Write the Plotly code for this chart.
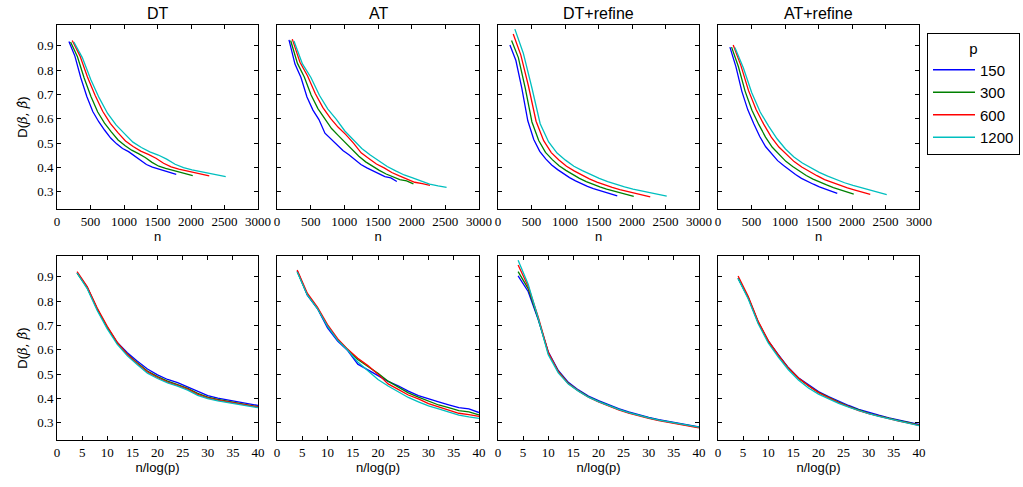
import numpy as np
import plotly.graph_objects as go

# ---------------- data ----------------
P_VALUES = [150, 300, 600, 1200]
P_LABELS = ["150", "300", "600", "1200"]
COLORS = ["#0000ff", "#008000", "#ff0000", "#00bfbf"]
METHODS = ["DT", "AT", "DT+refine", "AT+refine"]

# n / log(p) grid (bottom row x values)
N_OVER_LOGP = [4, 6, 8, 10, 12, 14, 16, 18, 20, 22, 24, 26, 28, 30, 32, 34, 36, 38, 40]
# n = N_OVER_LOGP * SAMPLE_FACTOR * log(p)   (top row x values)
SAMPLE_FACTOR = 8.88

DT_150 = [0.918, 0.858, 0.768, 0.692, 0.630, 0.588, 0.553, 0.521, 0.497, 0.478, 0.465, 0.448, 0.428, 0.412, 0.401, 0.394, 0.387, 0.380, 0.371]
DT_300 = [0.916, 0.856, 0.768, 0.692, 0.628, 0.582, 0.546, 0.513, 0.490, 0.471, 0.457, 0.441, 0.421, 0.405, 0.396, 0.389, 0.381, 0.374, 0.366]
DT_600 = [0.922, 0.860, 0.772, 0.697, 0.631, 0.581, 0.543, 0.509, 0.486, 0.467, 0.454, 0.438, 0.417, 0.402, 0.393, 0.386, 0.378, 0.371, 0.365]
DT_1200 = [0.916, 0.852, 0.762, 0.686, 0.622, 0.575, 0.539, 0.504, 0.482, 0.464, 0.451, 0.434, 0.413, 0.399, 0.390, 0.383, 0.375, 0.368, 0.362]

AT_150 = [0.925, 0.825, 0.770, 0.690, 0.636, 0.597, 0.541, 0.518, 0.494, 0.470, 0.452, 0.430, 0.412, 0.398, 0.386, 0.374, 0.362, 0.357, 0.342]
AT_300 = [0.922, 0.828, 0.772, 0.698, 0.642, 0.600, 0.560, 0.531, 0.503, 0.471, 0.446, 0.423, 0.405, 0.388, 0.373, 0.362, 0.350, 0.345, 0.332]
AT_600 = [0.928, 0.833, 0.776, 0.704, 0.646, 0.602, 0.565, 0.535, 0.500, 0.460, 0.437, 0.414, 0.398, 0.379, 0.365, 0.352, 0.339, 0.333, 0.326]
AT_1200 = [0.920, 0.826, 0.770, 0.697, 0.640, 0.598, 0.550, 0.515, 0.478, 0.451, 0.426, 0.404, 0.386, 0.369, 0.357, 0.345, 0.331, 0.324, 0.318]

DTR_150 = [0.904, 0.840, 0.725, 0.592, 0.515, 0.466, 0.435, 0.410, 0.391, 0.373, 0.358, 0.345, 0.333, 0.322, 0.313, 0.305, 0.297, 0.290, 0.283]
DTR_300 = [0.922, 0.852, 0.728, 0.587, 0.511, 0.462, 0.432, 0.407, 0.388, 0.370, 0.355, 0.342, 0.330, 0.320, 0.311, 0.303, 0.295, 0.288, 0.281]
DTR_600 = [0.949, 0.862, 0.735, 0.590, 0.510, 0.461, 0.431, 0.405, 0.386, 0.368, 0.353, 0.340, 0.328, 0.318, 0.309, 0.301, 0.294, 0.287, 0.279]
DTR_1200 = [0.969, 0.870, 0.730, 0.580, 0.505, 0.459, 0.430, 0.405, 0.387, 0.370, 0.355, 0.342, 0.330, 0.320, 0.311, 0.303, 0.296, 0.289, 0.282]

ATR_150 = [0.895, 0.815, 0.713, 0.637, 0.580, 0.527, 0.485, 0.455, 0.428, 0.408, 0.389, 0.371, 0.355, 0.342, 0.331, 0.320, 0.311, 0.302, 0.293]
ATR_300 = [0.895, 0.815, 0.713, 0.635, 0.577, 0.525, 0.483, 0.452, 0.425, 0.404, 0.385, 0.367, 0.352, 0.339, 0.328, 0.317, 0.309, 0.300, 0.290]
ATR_600 = [0.904, 0.820, 0.717, 0.638, 0.578, 0.525, 0.484, 0.452, 0.424, 0.402, 0.383, 0.366, 0.350, 0.338, 0.327, 0.316, 0.307, 0.298, 0.289]
ATR_1200 = [0.893, 0.810, 0.707, 0.628, 0.570, 0.518, 0.476, 0.443, 0.418, 0.398, 0.380, 0.364, 0.349, 0.337, 0.326, 0.316, 0.307, 0.298, 0.288]

SERIES = {
    "DT": [DT_150, DT_300, DT_600, DT_1200],
    "AT": [AT_150, AT_300, AT_600, AT_1200],
    "DT+refine": [DTR_150, DTR_300, DTR_600, DTR_1200],
    "AT+refine": [ATR_150, ATR_300, ATR_600, ATR_1200],
}

N_TICKS = [0, 500, 1000, 1500, 2000, 2500, 3000]
NLOG_TICKS = [0, 5, 10, 15, 20, 25, 30, 35, 40]
D_TICKS = [0.3, 0.4, 0.5, 0.6, 0.7, 0.8, 0.9]

# ---------------- layout geometry ----------------
W, H = 1023, 487
COL_PX = [(57, 258), (277, 479), (498, 699), (718, 919)]
ROW_PX = [(25, 209), (256, 440)]

TICK_FONT = dict(family="Liberation Serif, DejaVu Serif, serif", size=13, color="black")
LABEL_FONT = dict(family="Liberation Sans, Arial, sans-serif", size=13, color="black")

fig = go.Figure()

for c, method in enumerate(METHODS):
    for r in range(2):
        idx = r * 4 + c + 1
        xa = "x" if idx == 1 else f"x{idx}"
        ya = "y" if idx == 1 else f"y{idx}"
        for k, p in enumerate(P_VALUES):
            xb = np.array(N_OVER_LOGP, dtype=float)
            xv = xb * SAMPLE_FACTOR * np.log(p) if r == 0 else xb
            fig.add_trace(go.Scatter(
                x=xv, y=SERIES[method][k], mode="lines",
                line=dict(color=COLORS[k], width=1.3),
                name=P_LABELS[k], legendgroup=P_LABELS[k],
                showlegend=(idx == 1), xaxis=xa, yaxis=ya,
            ))

        xdom = [COL_PX[c][0] / W, COL_PX[c][1] / W]
        ydom = [1 - ROW_PX[r][1] / H, 1 - ROW_PX[r][0] / H]
        common = dict(showline=True, linecolor="black", linewidth=1, mirror="allticks",
                      ticks="inside", ticklen=4, tickwidth=1, tickcolor="black",
                      showgrid=False, zeroline=False, tickfont=TICK_FONT, automargin=False)
        xkey = "xaxis" if idx == 1 else f"xaxis{idx}"
        ykey = "yaxis" if idx == 1 else f"yaxis{idx}"
        if r == 0:
            xcfg = dict(range=[0, 3000], tickvals=N_TICKS, ticktext=[str(t) for t in N_TICKS],
                        title=dict(text="n", font=LABEL_FONT, standoff=4))
        else:
            xcfg = dict(range=[0, 40], tickvals=NLOG_TICKS, ticktext=[str(t) for t in NLOG_TICKS],
                        title=dict(text="n/log(p)", font=LABEL_FONT, standoff=4))
        xcfg.update(common, domain=xdom, anchor=ya)
        ycfg = dict(range=[0.229, 0.986], tickvals=D_TICKS, ticktext=[f"{t:.1f}" for t in D_TICKS],
                    showticklabels=(c == 0), domain=ydom, anchor=xa)
        if c == 0:
            ycfg["title"] = dict(
                text="D(<span style='font-family:DejaVu Serif'><i>β</i>, <i>β\u0302</i></span>)",
                font=LABEL_FONT, standoff=6)
        ycfg.update(common)
        fig.layout[xkey] = xcfg
        fig.layout[ykey] = ycfg

    fig.add_annotation(
        text=method, xref="paper", yref="paper",
        x=(COL_PX[c][0] + COL_PX[c][1]) / 2 / W, y=1 - ROW_PX[0][0] / H,
        xanchor="center", yanchor="bottom", yshift=1, showarrow=False,
        font=dict(family="Liberation Sans, Arial, sans-serif", size=16, color="black"),
    )

fig.update_layout(
    width=W, height=H,
    margin=dict(l=0, r=0, t=0, b=0, autoexpand=False),
    paper_bgcolor="white", plot_bgcolor="white",
    legend=dict(
        x=927 / W, y=1 - 33 / H, xanchor="left", yanchor="top",
        bordercolor="black", borderwidth=1, bgcolor="white",
        font=dict(family="Liberation Sans, Arial, sans-serif", size=15, color="black"),
        title=dict(text="p", side="top center",
                   font=dict(family="Liberation Sans, Arial, sans-serif", size=15, color="black")),
        tracegroupgap=0, entrywidth=52, itemwidth=42,
    ),
)

fig.write_html("out.html", config={"displayModeBar": False},
               post_script="document.body.style.margin='0';document.body.style.overflow='hidden';")
